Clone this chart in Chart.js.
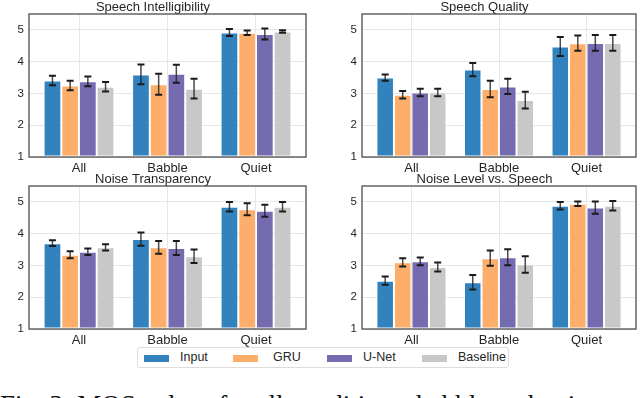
<!DOCTYPE html>
<html>
<head>
<meta charset="utf-8">
<script src="https://cdn.jsdelivr.net/npm/chart.js@4.4.1/dist/chart.umd.min.js"></script>
<style>
  html, body { margin: 0; padding: 0; background: #fff; }
  body { width: 640px; height: 398px; position: relative; overflow: hidden; font-family: "Liberation Sans", Arial, sans-serif; }
  .panel { position: absolute; }
  #legend {
    position: absolute; left: 137px; top: 347px; width: 372px; height: 21px;
    border: 1px solid #dcdcdc; border-radius: 3px; box-sizing: border-box;
    font-size: 12.5px; color: #262626;
  }
  #legend span.sw { position: absolute; top: 7px; width: 25px; height: 7px; }
  #legend span.lb { position: absolute; top: 2px; }
  #caption {
    position: absolute; left: 0; top: 392px; white-space: nowrap; line-height: 27px;
    font-family: "Liberation Serif", "Times New Roman", serif; font-size: 27px; color: #111;
  }
</style>
</head>
<body>
<div class="panel" style="left:0;top:0;width:335px;height:175px"><canvas id="c0"></canvas></div>
<div class="panel" style="left:333px;top:0;width:332px;height:175px"><canvas id="c1"></canvas></div>
<div class="panel" style="left:0;top:172px;width:335px;height:175px"><canvas id="c2"></canvas></div>
<div class="panel" style="left:333px;top:172px;width:332px;height:175px"><canvas id="c3"></canvas></div>
<div id="legend"></div>
<div id="caption">Fig. 3: MOS values for all conditions, babble and quiet scenarios.</div>
<script>
const categories = ["All", "Babble", "Quiet"];
const seriesNames = ["Input", "GRU", "U-Net", "Baseline"];
const seriesColors = ["#3182bd", "#fdae6b", "#756bb1", "#c8c8c8"];
const yTicks = [1, 2, 3, 4, 5];

// Speech Intelligibility
const siMean = [[3.41, 3.60, 4.92], [3.25, 3.29, 4.91], [3.38, 3.62, 4.87], [3.21, 3.15, 4.95]];
const siErr  = [[0.15, 0.31, 0.11], [0.15, 0.33, 0.07], [0.15, 0.28, 0.17], [0.15, 0.31, 0.04]];
// Speech Quality
const sqMean = [[3.50, 3.75, 4.48], [2.96, 3.14, 4.58], [3.03, 3.22, 4.59], [3.03, 2.79, 4.59]];
const sqErr  = [[0.10, 0.21, 0.30], [0.12, 0.26, 0.24], [0.12, 0.24, 0.25], [0.12, 0.26, 0.25]];
// Noise Transparency
const ntMean = [[3.70, 3.83, 4.85], [3.34, 3.57, 4.77], [3.43, 3.55, 4.72], [3.57, 3.29, 4.85]];
const ntErr  = [[0.09, 0.21, 0.15], [0.11, 0.20, 0.19], [0.10, 0.22, 0.19], [0.10, 0.21, 0.15]];
// Noise Level vs. Speech
const nlMean = [[2.52, 2.47, 4.88], [3.10, 3.23, 4.94], [3.13, 3.26, 4.82], [2.95, 3.03, 4.88]];
const nlErr  = [[0.13, 0.23, 0.12], [0.13, 0.24, 0.07], [0.12, 0.25, 0.19], [0.14, 0.26, 0.15]];

const panels = [
  { id: "c0", title: "Speech Intelligibility", mean: siMean, err: siErr },
  { id: "c1", title: "Speech Quality", mean: sqMean, err: sqErr },
  { id: "c2", title: "Noise Transparency", mean: ntMean, err: ntErr },
  { id: "c3", title: "Noise Level vs. Speech", mean: nlMean, err: nlErr },
];

const FONT = "'Liberation Sans', Arial, sans-serif";
const TEXT = "#262626";

// frame around the plot area (matplotlib style spines)
const framePlugin = {
  id: "frame",
  afterDraw(chart) {
    const { ctx, chartArea: a } = chart;
    ctx.save();
    ctx.strokeStyle = "#4d4d4d";
    ctx.lineWidth = 1.3;
    ctx.strokeRect(a.left, a.top, a.right - a.left, a.bottom - a.top);
    ctx.restore();
  },
};

// error bars with caps, read from dataset.err
const errorBarPlugin = {
  id: "errbars",
  afterDatasetsDraw(chart) {
    const { ctx } = chart;
    const ys = chart.scales.y;
    chart.data.datasets.forEach((ds, di) => {
      const meta = chart.getDatasetMeta(di);
      meta.data.forEach((bar, i) => {
        const v = ds.data[i].y;
        const e = ds.err[i];
        const top = ys.getPixelForValue(v + e);
        const bot = ys.getPixelForValue(v - e);
        ctx.save();
        ctx.strokeStyle = "rgba(30,30,30,0.8)";
        ctx.lineWidth = 1.5;
        ctx.beginPath();
        ctx.moveTo(bar.x, top);
        ctx.lineTo(bar.x, bot);
        ctx.stroke();
        ctx.strokeStyle = "#1a1a1a";
        ctx.lineWidth = 2;
        ctx.beginPath();
        ctx.moveTo(bar.x - 3.5, top);
        ctx.lineTo(bar.x + 3.5, top);
        ctx.moveTo(bar.x - 3.5, bot);
        ctx.lineTo(bar.x + 3.5, bot);
        ctx.stroke();
        ctx.restore();
      });
    });
  },
};

function makeChart(p) {
  const datasets = seriesNames.map((name, si) => ({
    label: name,
    data: p.mean[si].map((v, ci) => ({ x: ci, y: v })),
    err: p.err[si],
    backgroundColor: seriesColors[si],
    borderColor: "rgba(255,255,255,0.45)",
    borderWidth: 1,
    borderSkipped: false,
    base: 1,
    categoryPercentage: 0.8,
    barPercentage: 1.0,
  }));

  return new Chart(document.getElementById(p.id), {
    type: "bar",
    data: { datasets },
    plugins: [errorBarPlugin, framePlugin],
    options: {
      responsive: true,
      maintainAspectRatio: false,
      animation: false,
      // right padding equal to the y-axis width keeps the title centred on the plot
      layout: { padding: { left: 0, right: 29, top: 0, bottom: 0 } },
      plugins: {
        legend: { display: false },
        tooltip: { enabled: false },
        title: {
          display: true,
          text: p.title,
          color: TEXT,
          font: { family: FONT, size: 13, weight: "normal", lineHeight: 1.0 },
          padding: { top: 1, bottom: 0 },
        },
      },
      scales: {
        x: {
          type: "linear",
          min: -0.565,
          max: 2.565,
          offset: false,
          afterBuildTicks: (s) => { s.ticks = categories.map((_, i) => ({ value: i })); },
          afterFit: (s) => { s.height = 18; },
          grid: { color: "#e6e6e6", lineWidth: 1, drawTicks: false, offset: false },
          border: { display: false },
          ticks: {
            padding: 4,
            color: TEXT,
            font: { family: FONT, size: 13 },
            callback: (v) => categories[v],
          },
        },
        y: {
          min: 1,
          max: 5.5,
          afterBuildTicks: (s) => { s.ticks = yTicks.map((v) => ({ value: v })); },
          afterFit: (s) => { s.width = 29; },
          grid: { color: "#e6e6e6", lineWidth: 1, drawTicks: false },
          border: { display: false },
          ticks: { padding: 5, color: TEXT, font: { family: FONT, size: 11.5 } },
        },
      },
    },
  });
}

panels.forEach(makeChart);

// legend
const legend = document.getElementById("legend");
const swLeft = [6, 95, 189, 284];
const lbLeft = [42, 135, 225, 320];
seriesNames.forEach((name, i) => {
  const sw = document.createElement("span");
  sw.className = "sw";
  sw.style.left = swLeft[i] + "px";
  sw.style.background = seriesColors[i];
  legend.appendChild(sw);
  const lb = document.createElement("span");
  lb.className = "lb";
  lb.style.left = lbLeft[i] + "px";
  lb.textContent = name;
  legend.appendChild(lb);
});
</script>
</body>
</html>
